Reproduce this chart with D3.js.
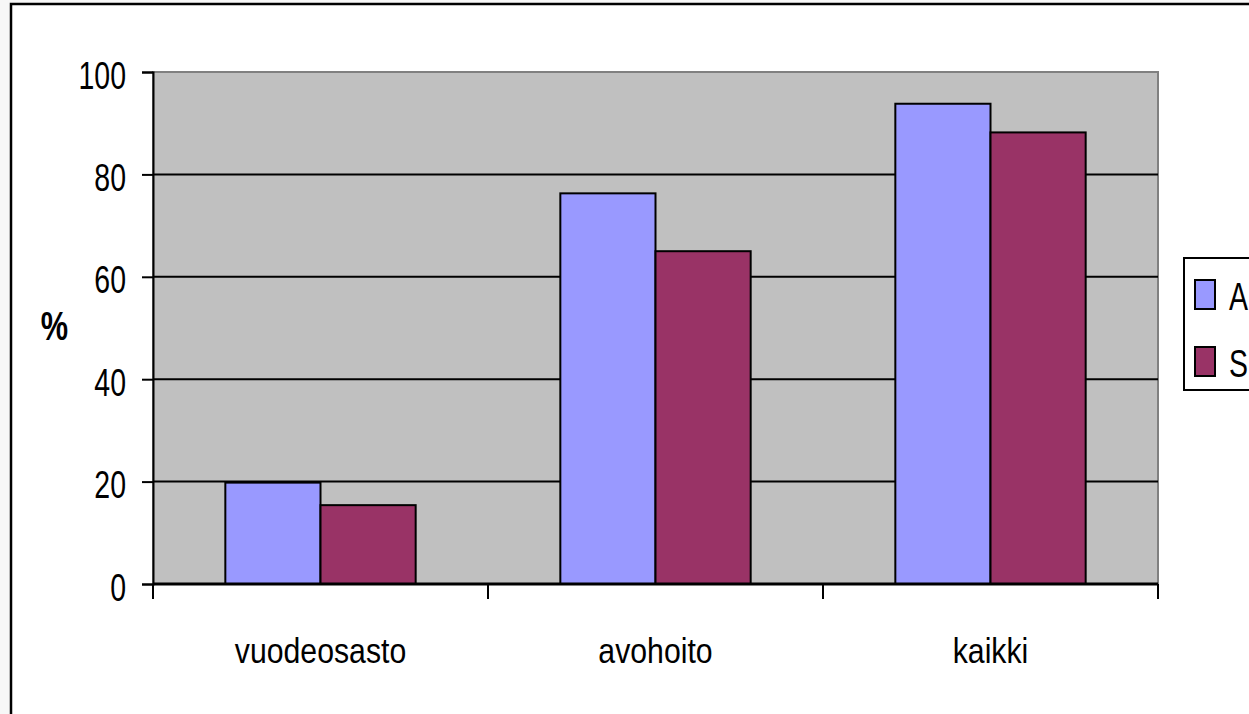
<!DOCTYPE html>
<html>
<head>
<meta charset="utf-8">
<script src="https://cdn.jsdelivr.net/npm/d3@7"></script>
<style>
  html, body { margin: 0; padding: 0; background: #f7f7f7; }
  svg { display: block; font-family: Arial, "Liberation Sans", sans-serif; }
</style>
</head>
<body>
<div id="chart"></div>
<script>
const categories = ["vuodeosasto", "avohoito", "kaikki"];
const seriesNames = ["A", "S"];
const valuesA = [19.8, 76.3, 93.8];
const valuesS = [15.4, 65.0, 88.2];
const yTicks = [0, 20, 40, 60, 80, 100];
const colors = ["#9999FF", "#993366"];

const W = 1249, H = 714;
const plot = {left: 153, top: 72, right: 1158, bottom: 584};

const svg = d3.select("#chart")
  .append("svg")
  .attr("width", W)
  .attr("height", H);

// outer chart frame
svg.append("rect")
  .attr("x", 11).attr("y", 4)
  .attr("width", 1400).attr("height", 900)
  .attr("fill", "#ffffff")
  .attr("stroke", "#000").attr("stroke-width", 2.5);

const y = d3.scaleLinear().domain([0, 100]).range([plot.bottom, plot.top]);
const x = d3.scaleBand().domain(categories).range([plot.left, plot.right]);
const x1 = d3.scaleBand().domain(seriesNames).range([0, x.bandwidth()])
  .paddingInner(0).paddingOuter(0.76);

// plot area
svg.append("rect")
  .attr("x", plot.left).attr("y", plot.top)
  .attr("width", plot.right - plot.left).attr("height", plot.bottom - plot.top)
  .attr("fill", "#C0C0C0")
  .attr("stroke", "#808080").attr("stroke-width", 2);

// grid lines
svg.append("g")
  .selectAll("line")
  .data(yTicks.filter(d => d > 0 && d < 100))
  .enter().append("line")
  .attr("x1", plot.left).attr("x2", plot.right)
  .attr("y1", d => y(d)).attr("y2", d => y(d))
  .attr("stroke", "#000").attr("stroke-width", 2);

// bars
const rows = categories.map((c, i) => ({cat: c, vals: [valuesA[i], valuesS[i]]}));
const groups = svg.append("g").selectAll("g")
  .data(rows).enter().append("g")
  .attr("transform", d => `translate(${x(d.cat)},0)`);
groups.selectAll("rect")
  .data(d => d.vals.map((v, k) => ({name: seriesNames[k], v: v, k: k})))
  .enter().append("rect")
  .attr("x", d => x1(d.name))
  .attr("y", d => y(d.v))
  .attr("width", x1.bandwidth())
  .attr("height", d => y(0) - y(d.v))
  .attr("fill", d => colors[d.k])
  .attr("stroke", "#000").attr("stroke-width", 2);

// y axis
const sxTick = 0.73;
const yAxis = svg.append("g")
  .attr("transform", `translate(${plot.left},0)`)
  .call(d3.axisLeft(y).tickValues(yTicks).tickSize(11).tickPadding(16));
yAxis.select(".domain").attr("stroke", "#000").attr("stroke-width", 2);
yAxis.selectAll(".tick line").attr("stroke", "#000").attr("stroke-width", 2);
yAxis.selectAll(".tick text")
  .attr("font-size", 39)
  .attr("fill", "#000")
  .attr("x", -27 / sxTick)
  .attr("dy", 16)
  .attr("transform", `scale(${sxTick},1)`);

// x axis
const xTicks = categories.map(c => x(c)).concat([plot.right]);
svg.append("line")
  .attr("x1", plot.left).attr("x2", plot.right)
  .attr("y1", y(0)).attr("y2", y(0))
  .attr("stroke", "#000").attr("stroke-width", 3);
svg.append("g").selectAll("line")
  .data(xTicks).enter().append("line")
  .attr("x1", d => d).attr("x2", d => d)
  .attr("y1", y(0)).attr("y2", y(0) + 15)
  .attr("stroke", "#000").attr("stroke-width", 2);

const sxCat = 0.84;
svg.append("g").selectAll("text")
  .data(categories).enter().append("text")
  .attr("transform", d => `translate(${x(d) + x.bandwidth() / 2},663) scale(${sxCat},1)`)
  .attr("text-anchor", "middle")
  .attr("font-size", 36)
  .text(d => d);

// y axis title
svg.append("text")
  .attr("transform", "translate(54.5,340) scale(0.75,1)")
  .attr("text-anchor", "middle")
  .attr("font-size", 41)
  .attr("font-weight", "bold")
  .text("%");

// legend
const legend = svg.append("g").attr("transform", "translate(1184,258)");
legend.append("rect")
  .attr("x", 0).attr("y", 0)
  .attr("width", 200).attr("height", 132)
  .attr("fill", "#fff")
  .attr("stroke", "#000").attr("stroke-width", 2);
const items = legend.selectAll("g.item")
  .data(seriesNames).enter().append("g")
  .attr("transform", (d, i) => `translate(0,${22 + i * 67})`);
items.append("rect")
  .attr("x", 11).attr("y", 0)
  .attr("width", 20).attr("height", 29)
  .attr("fill", (d, i) => colors[i])
  .attr("stroke", "#000").attr("stroke-width", 2);
items.append("text")
  .attr("transform", `translate(45,30) scale(${sxTick},1)`)
  .attr("font-size", 39)
  .text(d => d);
</script>
</body>
</html>
